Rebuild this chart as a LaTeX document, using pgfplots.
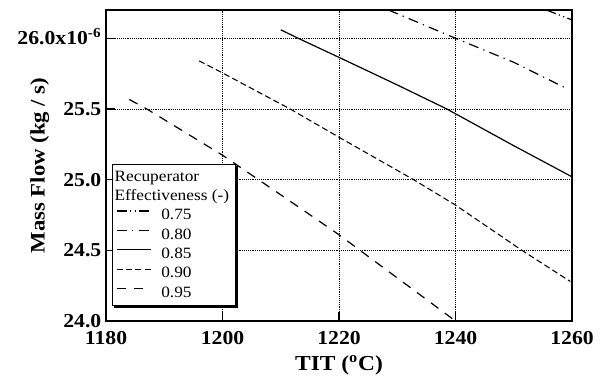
\documentclass[border=0pt]{standalone}
\usepackage{fontspec}
\setmainfont{Liberation Serif}[FakeStretch=1.1]
\usepackage{pgfplots}
\usepackage{pgfplotstable}
\pgfplotsset{compat=1.18}

\pgfplotstableread{
x y
1255.6 26.20
1260.0 26.13
}\tA
\pgfplotstableread{
x y
1228.5 26.20
1240.0 26.00
1250.0 25.83
1259.3 25.64
}\tB
\pgfplotstableread{
x y
1210.0 26.06
1213.0 26.00
1220.0 25.865
1230.0 25.67
1238.5 25.50
1250.0 25.24
1260.0 25.02
}\tC
\pgfplotstableread{
x y
1196.0 25.84
1200.0 25.755
1211.6 25.50
1220.0 25.30
1232.8 25.00
1240.0 24.82
1251.4 24.50
1259.7 24.28
}\tD
\pgfplotstableread{
x y
1184.0 25.567
1187.0 25.50
1200.0 25.173
1213.3 24.80
1220.0 24.61
1223.6 24.50
1240.0 24.00
}\tE

\begin{document}
\begin{tikzpicture}
\begin{axis}[
  width=349.5pt, height=233.25pt, scale only axis,
  xmin=1180, xmax=1260, ymin=24, ymax=26.2,
  xtick={1180,1200,1220,1240,1260},
  xticklabels={1180,1200,1220,1240,1260},
  ytick={24,24.5,25,25.5,26},
  yticklabels={24.0,24.5,25.0,25.5,{26.0x10\smash{\textsuperscript{-6}}}},
  tick pos=left, tick align=inside, major tick length=7pt,
  tick style={black, line width=1pt},
  axis line style={line width=1pt},
  grid=major, grid style={densely dotted, black, line width=0.6pt},
  ticklabel style={font=\fontsize{14.8}{17}\selectfont\bfseries},
  xticklabel style={yshift=-4pt},
  xlabel={TIT (\textsuperscript{o}C)}, ylabel={Mass Flow (kg / s)},
  xlabel style={font=\fontsize{16}{19}\selectfont\bfseries,
    at={(axis description cs:0.5,-0.095)}, anchor=north},
  ylabel style={font=\fontsize{15.5}{18}\selectfont\bfseries,
    at={(axis description cs:-0.112,0.5)}, anchor=south},
  legend cell align=left,
  legend style={name=leg, at={(axis description cs:0.0122,0.505)}, anchor=north west,
    font=\fontsize{11.8}{13}\selectfont, draw=black, line width=0.8pt, fill=white,
    row sep=1.8pt, column sep=5.4pt, inner sep=3pt,
    nodes={text height=8.6pt, text depth=2.5pt, inner ysep=0.8pt, inner xsep=1.5pt}},
  legend image code/.code={\draw[#1] (0pt,3.4pt) -- (26pt,3.4pt);},
]
\coordinate (sw) at (rel axis cs:0,0);
\coordinate (ne) at (rel axis cs:1,1);
\addlegendimage{empty legend}
\addlegendentry{\hspace*{-35pt}Recuperator}
\addlegendimage{empty legend}
\addlegendentry{\hspace*{-35pt}Effectiveness (-)}
\addplot[black, line width=0.9pt, dash pattern=on 7.5pt off 2.5pt on 0.9pt off 2.5pt on 0.9pt off 2.5pt] table {\tA};
\addlegendentry{0.75}
\addplot[black, line width=0.9pt, dash pattern=on 7.5pt off 4pt on 0.9pt off 4pt] table {\tB};
\addlegendentry{0.80}
\addplot[black, line width=0.9pt] table {\tC};
\addlegendentry{0.85}
\addplot[black, line width=0.8pt, dash pattern=on 4.5pt off 2.5pt] table {\tD};
\addlegendentry{0.90}
\addplot[black, line width=0.9pt, dash pattern=on 7pt off 6pt] table {\tE};
\addlegendentry{0.95}
\end{axis}
\fill[black] ([yshift=-1.5pt]leg.north east) rectangle ([xshift=1.4pt,yshift=-1.4pt]leg.south east);
\fill[black] ([xshift=1.5pt]leg.south west) rectangle ([xshift=1.4pt,yshift=-1.4pt]leg.south east);
\pgfresetboundingbox
\path ([shift={(-79.5pt,-44.25pt)}]sw) rectangle ([shift={(24.75pt,7.5pt)}]ne);
\end{tikzpicture}
\end{document}
